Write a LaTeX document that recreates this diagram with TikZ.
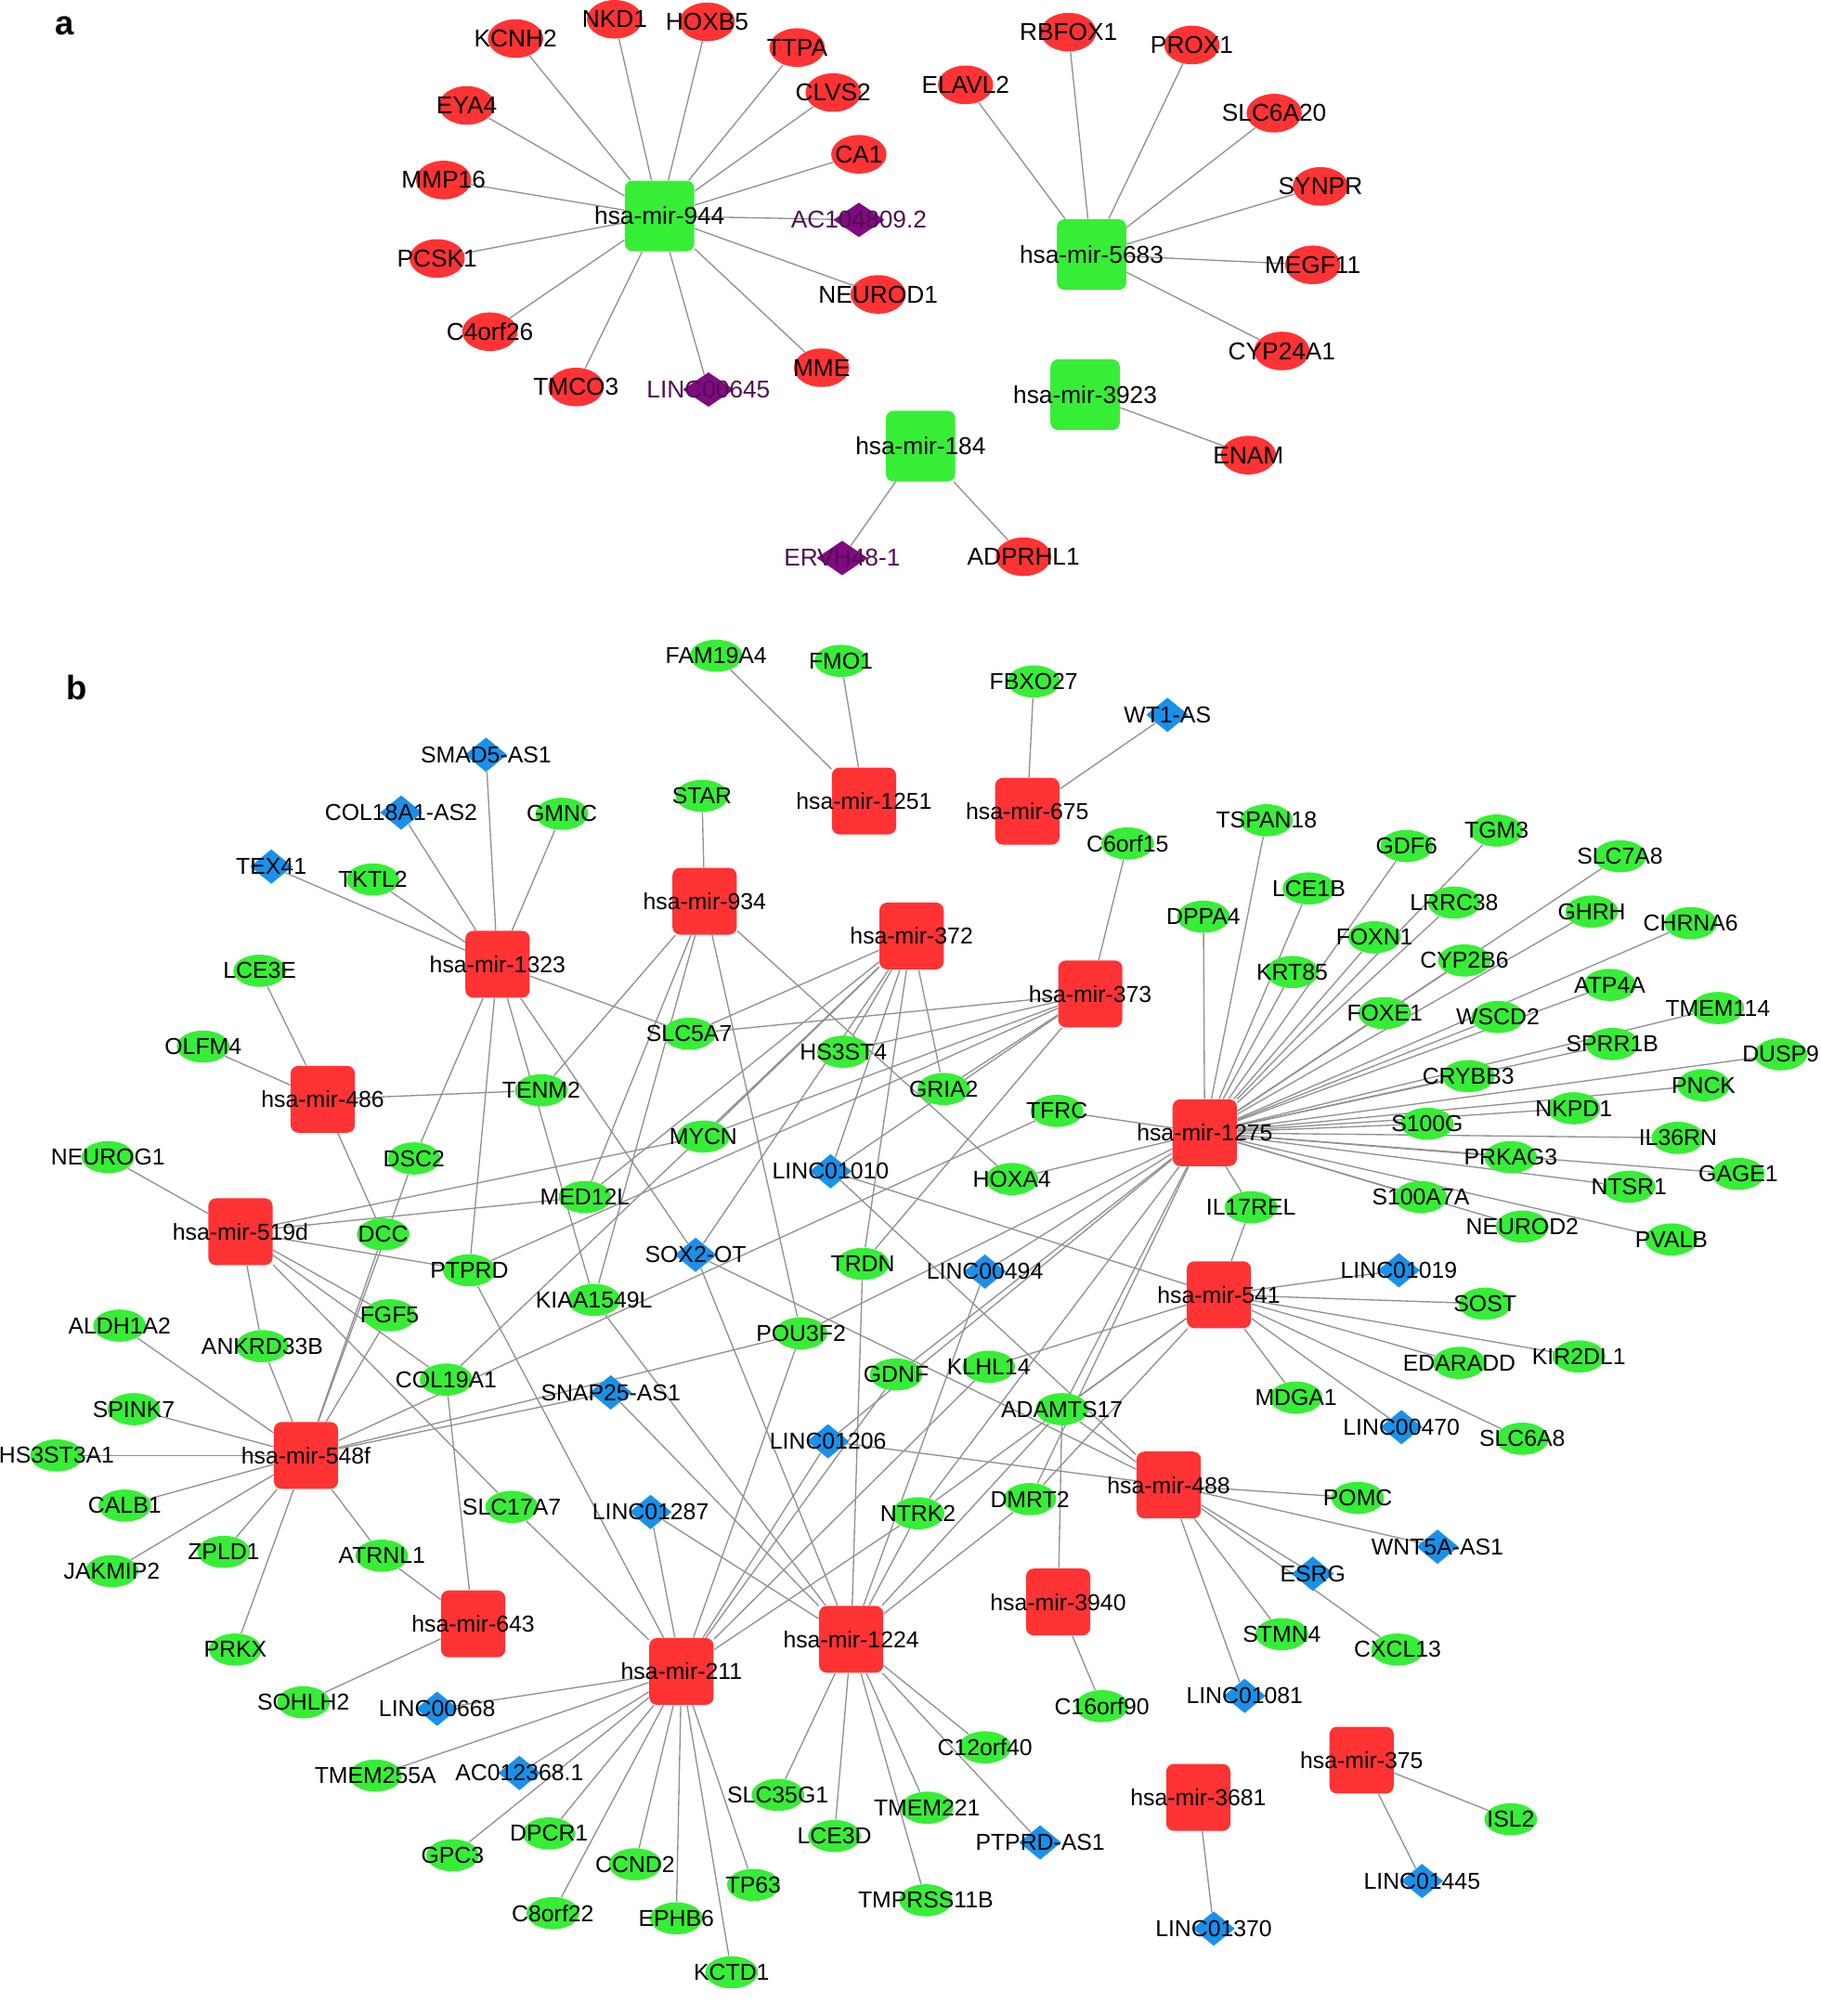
\documentclass[tikz,border=0pt]{standalone}
\usepackage{fontspec}
\setmainfont{Liberation Sans}
\usepackage{tikz}
\usetikzlibrary{shapes.geometric}
\definecolor{nodered}{RGB}{255,51,51}
\definecolor{nodegreen}{RGB}{55,238,55}
\definecolor{nodeblue}{RGB}{25,145,235}
\definecolor{nodepurple}{RGB}{128,10,128}
\definecolor{lncpurple}{RGB}{80,15,80}
\definecolor{edgegray}{RGB}{145,145,145}
\pgfdeclarelayer{bg}
\pgfsetlayers{bg,main}
\tikzset{
  lbl/.style={font=\fontsize{10.2}{12}\selectfont, inner sep=0pt, text=black},
  lbla/.style={font=\fontsize{10.8}{12}\selectfont, inner sep=0pt, text=black},
  mirb/.style={rectangle, rounded corners=0.12cm, fill=nodered, minimum width=1.0cm, minimum height=1.04cm, inner sep=0pt, label={[lbl]center:#1}},
  gene/.style={ellipse, fill=nodegreen, minimum width=0.82cm, minimum height=0.5cm, inner sep=0pt, label={[lbl]center:#1}},
  lnc/.style={diamond, fill=nodeblue, minimum width=0.66cm, minimum height=0.54cm, inner sep=0pt, label={[lbl]center:#1}},
  mira/.style={rectangle, rounded corners=0.12cm, fill=nodegreen, minimum width=1.08cm, minimum height=1.1cm, inner sep=0pt, label={[lbla]center:#1}},
  genea/.style={ellipse, fill=nodered, minimum width=0.86cm, minimum height=0.6cm, inner sep=0pt, label={[lbla]center:#1}},
  lnca/.style={diamond, fill=nodepurple, minimum width=0.8cm, minimum height=0.54cm, inner sep=0pt, label={[lbla, text=lncpurple]center:#1}},
  conn/.style={draw=edgegray, line width=0.55pt},
  panel/.style={font=\fontsize{15}{18}\selectfont\bfseries, inner sep=0pt}
}

\begin{document}
\begin{tikzpicture}[x=0.02cm, y=-0.02cm]
\useasboundingbox (0,0) rectangle (1416,1568);

% Panel a
\node[panel] (pa) at (50,20) {a};
\node[mira=hsa-mir-944] (m944) at (513,168) {};
\node[mira=hsa-mir-5683] (m5683) at (849,198) {};
\node[mira=hsa-mir-3923] (m3923) at (844,307) {};
\node[mira=hsa-mir-184] (m184) at (716,347) {};
\node[genea=KCNH2] (KCNH2) at (401,30) {};
\node[genea=NKD1] (NKD1) at (478,15) {};
\node[genea=HOXB5] (HOXB5) at (550,17) {};
\node[genea=TTPA] (TTPA) at (620,37) {};
\node[genea=CLVS2] (CLVS2) at (648,72) {};
\node[genea=CA1] (CA1) at (668,120) {};
\node[genea=EYA4] (EYA4) at (363,82) {};
\node[genea=MMP16] (MMP16) at (345,140) {};
\node[genea=PCSK1] (PCSK1) at (340,201) {};
\node[genea=C4orf26] (C4orf26) at (381,258) {};
\node[genea=TMCO3] (TMCO3) at (448,301) {};
\node[genea=MME] (MME) at (639,286) {};
\node[genea=NEUROD1] (NEUROD1) at (683,229) {};
\node[lnca=AC104809.2] (AC104809) at (668,171) {};
\node[lnca=LINC00645] (LINC00645) at (551,303) {};
\node[genea=ELAVL2] (ELAVL2) at (751,66) {};
\node[genea=RBFOX1] (RBFOX1) at (831,25) {};
\node[genea=PROX1] (PROX1) at (927,35) {};
\node[genea=SLC6A20] (SLC6A20) at (991,88) {};
\node[genea=SYNPR] (SYNPR) at (1027,145) {};
\node[genea=MEGF11] (MEGF11) at (1021,206) {};
\node[genea=CYP24A1] (CYP24A1) at (997,273) {};
\node[genea=ENAM] (ENAM) at (971,354) {};
\node[genea=ADPRHL1] (ADPRHL1) at (796,433) {};
\node[lnca=ERVH48-1] (ERVH481) at (655,434) {};

% Panel b: miRNAs
\node[panel] (pb) at (60,535) {b};
\node[mirb=hsa-mir-1251] (m1251) at (672,623) {};
\node[mirb=hsa-mir-675] (m675) at (799,631) {};
\node[mirb=hsa-mir-1323] (m1323) at (387,750) {};
\node[mirb=hsa-mir-934] (m934) at (548,701) {};
\node[mirb=hsa-mir-372] (m372) at (709,728) {};
\node[mirb=hsa-mir-373] (m373) at (848,773) {};
\node[mirb=hsa-mir-486] (m486) at (251,855) {};
\node[mirb=hsa-mir-1275] (m1275) at (937,881) {};
\node[mirb=hsa-mir-519d] (m519d) at (187,958) {};
\node[mirb=hsa-mir-541] (m541) at (948,1007) {};
\node[mirb=hsa-mir-548f] (m548f) at (238,1132) {};
\node[mirb=hsa-mir-488] (m488) at (909,1155) {};
\node[mirb=hsa-mir-3940] (m3940) at (823,1246) {};
\node[mirb=hsa-mir-643] (m643) at (368,1263) {};
\node[mirb=hsa-mir-211] (m211) at (530,1300) {};
\node[mirb=hsa-mir-1224] (m1224) at (662,1275) {};
\node[mirb=hsa-mir-3681] (m3681) at (932,1398) {};
\node[mirb=hsa-mir-375] (m375) at (1059,1369) {};

% Panel b: lncRNAs
\node[lnc=SMAD5-AS1] (SMAD5AS1) at (378,587) {};
\node[lnc=COL18A1-AS2] (COL18A1AS2) at (312,632) {};
\node[lnc=TEX41] (TEX41) at (211,674) {};
\node[lnc=WT1-AS] (WT1AS) at (908,556) {};
\node[lnc=LINC01010] (LINC01010) at (646,911) {};
\node[lnc=SOX2-OT] (SOX2OT) at (541,976) {};
\node[lnc=LINC00494] (LINC00494) at (766,989) {};
\node[lnc=SNAP25-AS1] (SNAP25AS1) at (475,1083) {};
\node[lnc=LINC01206] (LINC01206) at (644,1121) {};
\node[lnc=LINC01287] (LINC01287) at (506,1176) {};
\node[lnc=LINC01019] (LINC01019) at (1088,988) {};
\node[lnc=LINC00470] (LINC00470) at (1090,1110) {};
\node[lnc=WNT5A-AS1] (WNT5AAS1) at (1118,1203) {};
\node[lnc=ESRG] (ESRG) at (1021,1224) {};
\node[lnc=LINC01081] (LINC01081) at (968,1319) {};
\node[lnc=LINC00668] (LINC00668) at (340,1329) {};
\node[lnc=AC012368.1] (AC012368) at (404,1379) {};
\node[lnc=PTPRD-AS1] (PTPRDAS1) at (809,1433) {};
\node[lnc=LINC01370] (LINC01370) at (944,1500) {};
\node[lnc=LINC01445] (LINC01445) at (1106,1463) {};

% Panel b: mRNAs
\node[gene=FAM19A4] (FAM19A4) at (557,510) {};
\node[gene=FMO1] (FMO1) at (654,514) {};
\node[gene=FBXO27] (FBXO27) at (804,530) {};
\node[gene=GMNC] (GMNC) at (437,633) {};
\node[gene=TKTL2] (TKTL2) at (290,684) {};
\node[gene=STAR] (STAR) at (546,619) {};
\node[gene=C6orf15] (C6orf15) at (877,656) {};
\node[gene=LCE3E] (LCE3E) at (202,755) {};
\node[gene=OLFM4] (OLFM4) at (158,814) {};
\node[gene=TENM2] (TENM2) at (421,848) {};
\node[gene=SLC5A7] (SLC5A7) at (536,804) {};
\node[gene=HS3ST4] (HS3ST4) at (656,818) {};
\node[gene=GRIA2] (GRIA2) at (734,847) {};
\node[gene=MYCN] (MYCN) at (547,884) {};
\node[gene=TFRC] (TFRC) at (822,864) {};
\node[gene=HOXA4] (HOXA4) at (787,917) {};
\node[gene=NEUROG1] (NEUROG1) at (84,900) {};
\node[gene=DSC2] (DSC2) at (322,901) {};
\node[gene=DCC] (DCC) at (298,960) {};
\node[gene=MED12L] (MED12L) at (455,931) {};
\node[gene=PTPRD] (PTPRD) at (365,988) {};
\node[gene=TRDN] (TRDN) at (671,983) {};
\node[gene=KIAA1549L] (KIAA1549L) at (462,1011) {};
\node[gene=FGF5] (FGF5) at (303,1023) {};
\node[gene=POU3F2] (POU3F2) at (623,1037) {};
\node[gene=ALDH1A2] (ALDH1A2) at (93,1031) {};
\node[gene=ANKRD33B] (ANKRD33B) at (204,1047) {};
\node[gene=COL19A1] (COL19A1) at (347,1073) {};
\node[gene=GDNF] (GDNF) at (697,1069) {};
\node[gene=KLHL14] (KLHL14) at (769,1063) {};
\node[gene=ADAMTS17] (ADAMTS17) at (826,1096) {};
\node[gene=SPINK7] (SPINK7) at (104,1096) {};
\node[gene=HS3ST3A1] (HS3ST3A1) at (44,1132) {};
\node[gene=CALB1] (CALB1) at (97,1171) {};
\node[gene=ZPLD1] (ZPLD1) at (174,1207) {};
\node[gene=JAKMIP2] (JAKMIP2) at (87,1222) {};
\node[gene=ATRNL1] (ATRNL1) at (297,1210) {};
\node[gene=SLC17A7] (SLC17A7) at (398,1172) {};
\node[gene=NTRK2] (NTRK2) at (714,1177) {};
\node[gene=DMRT2] (DMRT2) at (801,1166) {};
\node[gene=POMC] (POMC) at (1056,1165) {};
\node[gene=CXCL13] (CXCL13) at (1087,1283) {};
\node[gene=STMN4] (STMN4) at (997,1271) {};
\node[gene=C16orf90] (C16orf90) at (857,1327) {};
\node[gene=PRKX] (PRKX) at (183,1283) {};
\node[gene=SOHLH2] (SOHLH2) at (236,1324) {};
\node[gene=TMEM255A] (TMEM255A) at (292,1381) {};
\node[gene=GPC3] (GPC3) at (352,1443) {};
\node[gene=DPCR1] (DPCR1) at (427,1426) {};
\node[gene=CCND2] (CCND2) at (494,1450) {};
\node[gene=C8orf22] (C8orf22) at (430,1488) {};
\node[gene=EPHB6] (EPHB6) at (526,1492) {};
\node[gene=KCTD1] (KCTD1) at (569,1534) {};
\node[gene=TP63] (TP63) at (586,1466) {};
\node[gene=SLC35G1] (SLC35G1) at (605,1396) {};
\node[gene=LCE3D] (LCE3D) at (649,1428) {};
\node[gene=TMEM221] (TMEM221) at (721,1406) {};
\node[gene=TMPRSS11B] (TMPRSS11B) at (720,1478) {};
\node[gene=C12orf40] (C12orf40) at (766,1359) {};
\node[gene=ISL2] (ISL2) at (1175,1415) {};
\node[gene=IL17REL] (IL17REL) at (973,939) {};
\node[gene=SOST] (SOST) at (1155,1014) {};
\node[gene=KIR2DL1] (KIR2DL1) at (1228,1055) {};
\node[gene=EDARADD] (EDARADD) at (1135,1060) {};
\node[gene=MDGA1] (MDGA1) at (1008,1087) {};
\node[gene=SLC6A8] (SLC6A8) at (1184,1119) {};
\node[gene=DPPA4] (DPPA4) at (936,713) {};
\node[gene=TSPAN18] (TSPAN18) at (985,638) {};
\node[gene=LCE1B] (LCE1B) at (1018,691) {};
\node[gene=GDF6] (GDF6) at (1094,658) {};
\node[gene=TGM3] (TGM3) at (1164,646) {};
\node[gene=SLC7A8] (SLC7A8) at (1260,666) {};
\node[gene=LRRC38] (LRRC38) at (1131,702) {};
\node[gene=FOXN1] (FOXN1) at (1069,729) {};
\node[gene=KRT85] (KRT85) at (1005,756) {};
\node[gene=GHRH] (GHRH) at (1238,709) {};
\node[gene=CHRNA6] (CHRNA6) at (1315,718) {};
\node[gene=CYP2B6] (CYP2B6) at (1139,747) {};
\node[gene=ATP4A] (ATP4A) at (1252,766) {};
\node[gene=TMEM114] (TMEM114) at (1336,784) {};
\node[gene=FOXE1] (FOXE1) at (1077,788) {};
\node[gene=WSCD2] (WSCD2) at (1165,791) {};
\node[gene=SPRR1B] (SPRR1B) at (1254,812) {};
\node[gene=DUSP9] (DUSP9) at (1385,820) {};
\node[gene=CRYBB3] (CRYBB3) at (1142,837) {};
\node[gene=PNCK] (PNCK) at (1325,844) {};
\node[gene=NKPD1] (NKPD1) at (1224,862) {};
\node[gene=S100G] (S100G) at (1110,874) {};
\node[gene=IL36RN] (IL36RN) at (1305,885) {};
\node[gene=PRKAG3] (PRKAG3) at (1175,900) {};
\node[gene=NTSR1] (NTSR1) at (1267,923) {};
\node[gene=GAGE1] (GAGE1) at (1352,913) {};
\node[gene=S100A7A] (S100A7A) at (1105,931) {};
\node[gene=NEUROD2] (NEUROD2) at (1184,954) {};
\node[gene=PVALB] (PVALB) at (1300,964) {};

% Interactions
\begin{pgfonlayer}{bg}
\fill[white] (0,0) rectangle (1416,1568);
\foreach \t in {KCNH2,NKD1,HOXB5,TTPA,CLVS2,CA1,AC104809,NEUROD1,MME,LINC00645,TMCO3,C4orf26,PCSK1,MMP16,EYA4}
  \draw[conn] (m944) -- (\t);
\foreach \t in {ELAVL2,RBFOX1,PROX1,SLC6A20,SYNPR,MEGF11,CYP24A1}
  \draw[conn] (m5683) -- (\t);
\draw[conn] (m3923) -- (ENAM);
\foreach \t in {ERVH481,ADPRHL1}
  \draw[conn] (m184) -- (\t);

\foreach \t in {FAM19A4,FMO1}
  \draw[conn] (m1251) -- (\t);
\foreach \t in {FBXO27,WT1AS}
  \draw[conn] (m675) -- (\t);
\foreach \t in {TEX41,TKTL2,COL18A1AS2,SMAD5AS1,GMNC,SLC5A7,DSC2,PTPRD,KIAA1549L,SOX2OT}
  \draw[conn] (m1323) -- (\t);
\foreach \t in {STAR,TENM2,MED12L,KIAA1549L,HOXA4,POU3F2}
  \draw[conn] (m934) -- (\t);
\foreach \t in {SLC5A7,COL19A1,MED12L,MYCN,HS3ST4,SOX2OT,LINC01010,TRDN,GRIA2}
  \draw[conn] (m372) -- (\t);
\foreach \t in {C6orf15,SLC5A7,HS3ST4,GRIA2,LINC01010,MYCN,PTPRD,TRDN}
  \draw[conn] (m373) -- (\t);
\foreach \t in {LCE3E,OLFM4,TENM2,DCC}
  \draw[conn] (m486) -- (\t);
\foreach \t in {NEUROG1,MYCN,MED12L,PTPRD,FGF5,COL19A1,SLC17A7,ANKRD33B}
  \draw[conn] (m519d) -- (\t);
\foreach \t in {ALDH1A2,SPINK7,HS3ST3A1,CALB1,ZPLD1,JAKMIP2,PRKX,ATRNL1,ANKRD33B,DCC,DSC2,FGF5,TFRC,SNAP25AS1,POU3F2}
  \draw[conn] (m548f) -- (\t);
\foreach \t in {COL19A1,ATRNL1,SOHLH2}
  \draw[conn] (m643) -- (\t);
\foreach \t in {LINC00668,TMEM255A,AC012368,GPC3,DPCR1,CCND2,C8orf22,EPHB6,KCTD1,TP63,SLC17A7,LINC01287,PTPRD,POU3F2,LINC01206,GDNF,KLHL14,NTRK2}
  \draw[conn] (m211) -- (\t);
\foreach \t in {SNAP25AS1,SOX2OT,KIAA1549L,TRDN,LINC00494,NTRK2,ADAMTS17,DMRT2,LINC01287,SLC35G1,LCE3D,TMEM221,TMPRSS11B,C12orf40,PTPRDAS1}
  \draw[conn] (m1224) -- (\t);
\foreach \t in {DPPA4,TSPAN18,LCE1B,GDF6,TGM3,SLC7A8,LRRC38,FOXN1,KRT85,GHRH,CHRNA6,CYP2B6,ATP4A,TMEM114,FOXE1,WSCD2,SPRR1B,DUSP9,CRYBB3,PNCK,NKPD1,S100G,IL36RN,PRKAG3,NTSR1,GAGE1,S100A7A,NEUROD2,PVALB,IL17REL,TFRC,HOXA4,LINC00494,POU3F2,GDNF,LINC01206,NTRK2,ADAMTS17,DMRT2}
  \draw[conn] (m1275) -- (\t);
\foreach \t in {IL17REL,LINC01019,SOST,KIR2DL1,EDARADD,MDGA1,LINC00470,SLC6A8,LINC01010,KLHL14,ADAMTS17,NTRK2,DMRT2}
  \draw[conn] (m541) -- (\t);
\foreach \t in {POMC,WNT5AAS1,ESRG,CXCL13,STMN4,LINC01081,ADAMTS17,SOX2OT,LINC01206,LINC01010}
  \draw[conn] (m488) -- (\t);
\foreach \t in {ADAMTS17,C16orf90}
  \draw[conn] (m3940) -- (\t);
\draw[conn] (m3681) -- (LINC01370);
\foreach \t in {ISL2,LINC01445}
  \draw[conn] (m375) -- (\t);
\end{pgfonlayer}
\end{tikzpicture}
\end{document}
